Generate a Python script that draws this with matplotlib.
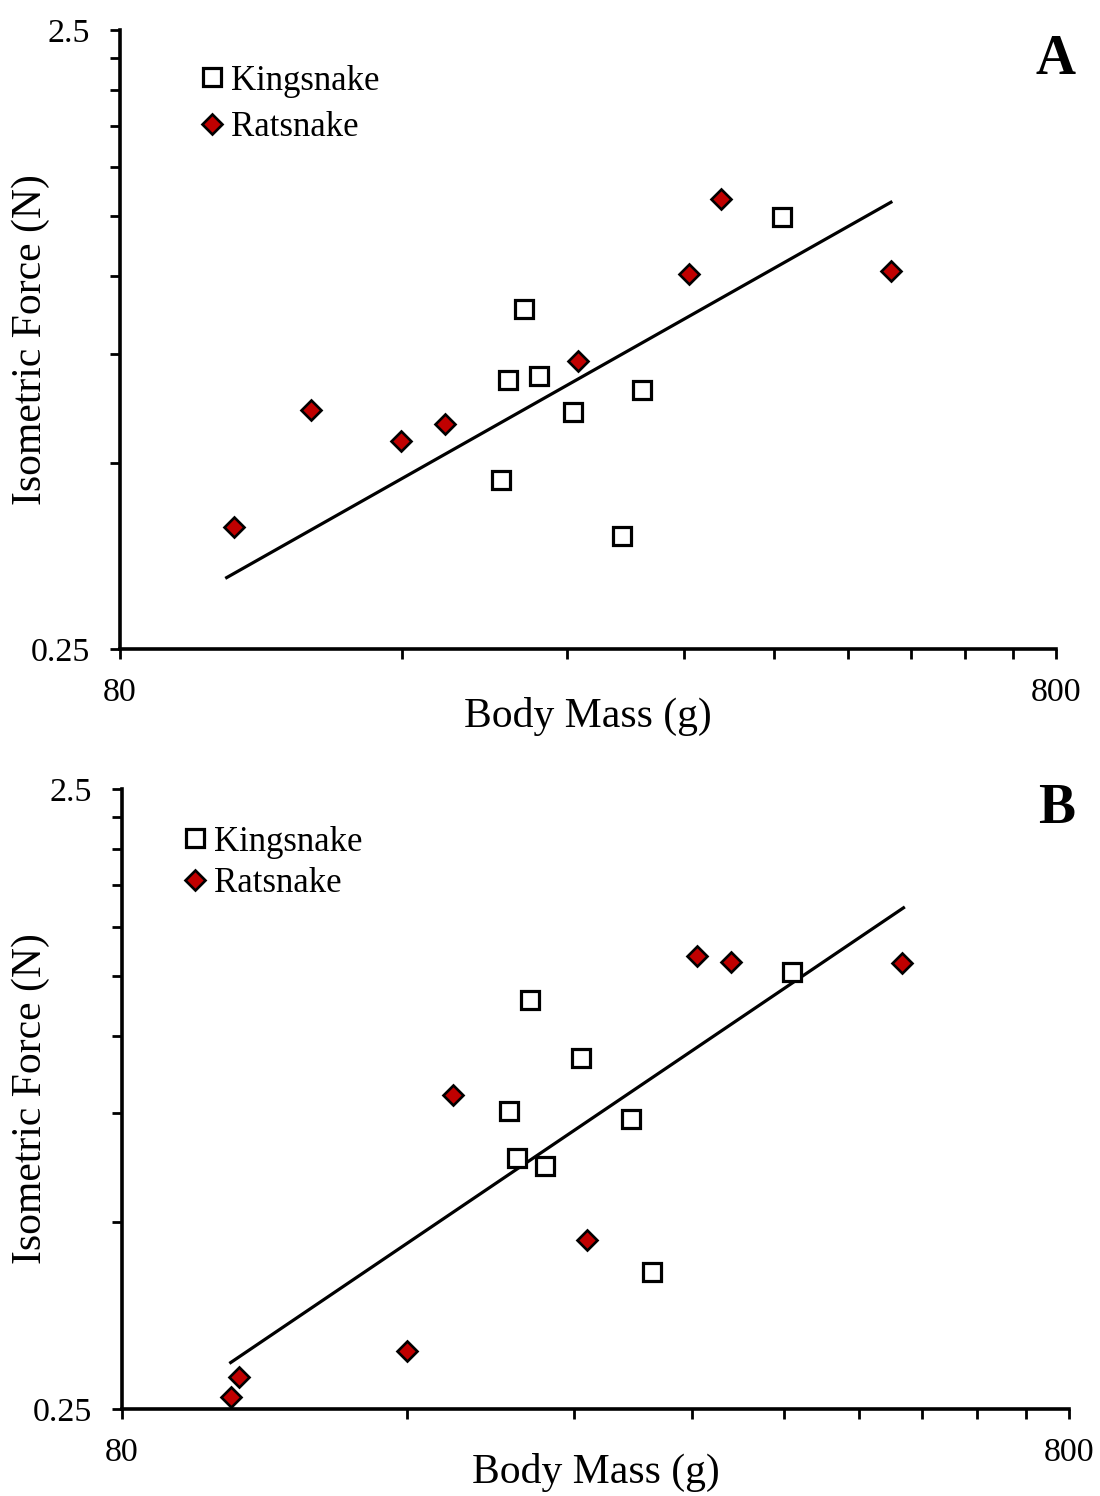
import matplotlib
matplotlib.use("Agg")
import matplotlib.pyplot as plt
from matplotlib.ticker import FixedLocator, NullFormatter

plt.rcParams['font.family'] = ['Liberation Serif', 'DejaVu Serif']

# panel A data
king_mass_a = [204, 208, 216, 224, 244, 275, 289, 408]
king_force_a = [0.469, 0.681, 0.887, 0.689, 0.604, 0.381, 0.656, 1.246]
rat_mass_a = [105.9, 128, 159.7, 178, 247, 324, 351, 533]
rat_force_a = [0.394, 0.609, 0.541, 0.578, 0.731, 1.008, 1.332, 1.019]
trend_mass_a = [104, 533]
trend_force_a = [0.326, 1.317]

# panel B data
king_mass_b = [205, 209, 216, 224, 244, 276, 290, 408]
king_force_b = [0.757, 0.634, 1.143, 0.616, 0.919, 0.735, 0.416, 1.268]
rat_mass_b = [104.2, 106.2, 160, 179, 248, 324, 352, 533]
rat_force_b = [0.261, 0.281, 0.310, 0.801, 0.468, 1.346, 1.316, 1.312]
trend_mass_b = [104.2, 535]
trend_force_b = [0.297, 1.608]

x_ticks = [80, 800]
x_minor = [80 * k for k in range(2, 10)]
y_ticks = [0.25, 2.5]
y_minor = [0.25 * k for k in range(2, 10)]

red = '#C00000'

fig = plt.figure(figsize=(11, 14.96), dpi=100)
ax_a = fig.add_axes([0.1091, 0.5662, 0.8509, 0.4138])
ax_b = fig.add_axes([0.1109, 0.0582, 0.8609, 0.4144])


def setup(ax, km, kf, rm, rf, tm, tf, letter, leg_xy, leg_space, letter_xy,
          ylab_x, xpad):
    ax.plot(tm, tf, color='black', lw=2.3, zorder=2)
    ax.plot(km, kf, ls='none', marker='s', ms=12.5, mfc='white', mec='black',
            mew=2.3, label='Kingsnake', zorder=3, clip_on=False)
    ax.plot(rm, rf, ls='none', marker='D', ms=10, mfc=red, mec='black',
            mew=1.9, label='Ratsnake', zorder=3, clip_on=False)
    ax.set_xscale('log')
    ax.set_yscale('log')
    ax.set_xlim(80, 800)
    ax.set_ylim(0.25, 2.5)
    ax.xaxis.set_major_locator(FixedLocator(x_ticks))
    ax.xaxis.set_minor_locator(FixedLocator(x_minor))
    ax.yaxis.set_major_locator(FixedLocator(y_ticks))
    ax.yaxis.set_minor_locator(FixedLocator(y_minor))
    ax.set_xticklabels(['80', '800'])
    ax.set_yticklabels(['0.25', '2.5'])
    ax.xaxis.set_minor_formatter(NullFormatter())
    ax.yaxis.set_minor_formatter(NullFormatter())
    for s in ['top', 'right']:
        ax.spines[s].set_visible(False)
    for s in ['left', 'bottom']:
        ax.spines[s].set_linewidth(2.6)
    ax.tick_params(which='both', direction='out', length=7.5, width=2,
                   labelsize=24.5, colors='black')
    ax.tick_params(axis='x', pad=13)
    ax.tick_params(axis='y', pad=14)
    ax.set_xlabel('Body Mass (g)', fontsize=30, labelpad=xpad)
    ax.set_ylabel('Isometric Force (N)', fontsize=30)
    ax.yaxis.set_label_coords(ylab_x, 0.5)
    ax.legend(loc='upper left', bbox_to_anchor=leg_xy, frameon=False,
              fontsize=25, handlelength=0.6, handletextpad=0.25,
              borderpad=0, borderaxespad=0, labelspacing=leg_space,
              numpoints=1)
    ax.text(letter_xy[0], letter_xy[1], letter, transform=ax.transAxes,
            fontsize=40, fontweight='bold', ha='center', va='baseline')


setup(ax_a, king_mass_a, king_force_a, rat_mass_a, rat_force_a,
      trend_mass_a, trend_force_a, 'A', (0.087, 0.944), 0.4, (0.999, 0.929),
      -0.075, -8)
setup(ax_b, king_mass_b, king_force_b, rat_mass_b, rat_force_b,
      trend_mass_b, trend_force_b, 'B', (0.066, 0.941), 0.24, (0.987, 0.945),
      -0.076, -11)

fig.savefig('out.png', dpi=100)
